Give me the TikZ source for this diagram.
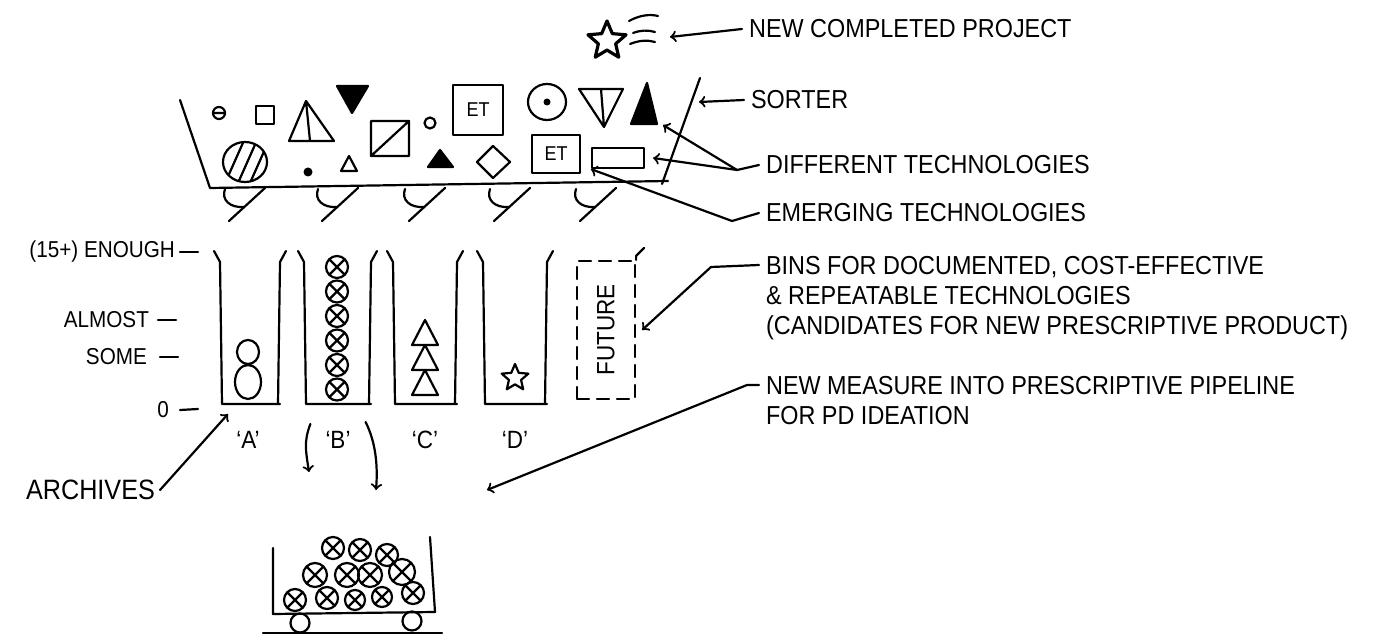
\documentclass[tikz,border=0pt]{standalone}
\usepackage{fontspec}
\setmainfont{Liberation Sans}[FakeStretch=0.9]
\usetikzlibrary{shapes.geometric,positioning}

\begin{document}
\begin{tikzpicture}[
        x=0.5pt, y=-0.5pt,
        line width=1.1pt, line cap=round, line join=round,
        note/.style={anchor=west, align=left, inner sep=0pt, font=\fontsize{13}{15}\selectfont},
        level/.style={anchor=east, inner sep=0pt, font=\fontsize{11.5}{13}\selectfont},
        binname/.style={inner sep=0pt, font=\fontsize{12.5}{14}\selectfont},
        etbox/.style={draw, inner sep=0pt, font=\fontsize{10}{12}\selectfont},
        pics/xball/.style={code={\draw (0,0) circle[radius=1] (-0.7,-0.7) -- (0.7,0.7) (-0.7,0.7) -- (0.7,-0.7);}},
    ]
    \fill[white] (0,0) rectangle (1380,635);
    \useasboundingbox (0,0) rectangle (1380,635);

    % sorter
    \draw (180,100) -- (210,188) -- (668,181);
    \draw (662,184) -- (700,78);
    \foreach \x in {225,318,405,490,576} {
        \draw (\x,189) .. controls (\x-4,200) and (\x+5,208) .. (\x+19,207);
        \draw (\x+40,188) -- (\x+4,221);
    }

    % technologies, top row
    \draw (219,113) circle[radius=6] (213,113) -- (225,113);
    \draw (256,106) rectangle (274,124);
    \draw (306,101) -- (289,141) -- (334,141) -- cycle (306,101) -- (310,141);
    \filldraw (337,86) -- (368,86) -- (352,113) -- cycle;
    \draw (371,121) rectangle (409,156) (371,156) -- (409,121);
    \draw (430,123) circle[radius=5.5];
    \node (et1) [etbox, minimum size=25pt] at (478,110) {ET};
    \draw (547,102) circle[x radius=19, y radius=18];
    \fill (547,102) circle[radius=3.5];
    \draw (579,89) -- (623,89) -- (604,127) -- cycle (601,89) -- (604,127);
    \filldraw (647,83) -- (657,124) -- (631,124) -- cycle;
    \coordinate (tallTri) at (663,125);

    % technologies, bottom row
    \draw (245,162) circle[x radius=22, y radius=20];
    \begin{scope}
        \clip (245,162) circle[x radius=22, y radius=20];
        \draw (222,190) -- (246,136) (234,192) -- (258,138) (246,192) -- (270,138);
    \end{scope}
    \fill (308,172) circle[radius=4.5];
    \draw (349,156) -- (357,171) -- (341,171) -- cycle;
    \filldraw (440,150) -- (453,167) -- (428,167) -- cycle;
    \draw (493,146) -- (510,162) -- (493,178) -- (477,162) -- cycle;
    \node (et2) [etbox, minimum width=24pt, minimum height=19pt] at (556,154) {ET};
    \node (emRect) [draw, minimum width=26pt, minimum height=10pt, inner sep=0pt] at (618,158) {};

    % new project
    \node (newStar) [star, star points=5, star point ratio=2.2, draw, line width=1.6pt, minimum size=20pt, inner sep=0pt] at (607,41) {};
    \draw (629,21) .. controls (640,15) and (650,14) .. (658,16);
    \draw (633,33) .. controls (641,30) and (648,30) .. (655,32);
    \draw (630,44) .. controls (640,40) and (648,40) .. (655,42);
    \coordinate (streak) at (670,37);
    \coordinate (sortwall) at (699,102);

    % bins
    \foreach \lft/\rgt in {220/278, 304/369, 393/455, 483/545} {
        \draw (\lft-6,251) -- (\lft,262) -- (\lft+2,404) -- (\rgt+2,404);
        \draw (\rgt+8,251) -- (\rgt+2,262) -- (\rgt,404);
    }
    \coordinate (binA) at (228,414);
    \draw (248,352) circle[x radius=11, y radius=12] (248,382) circle[x radius=13, y radius=17];
    \foreach \i in {0,...,5}
        \pic[scale=11] at (337,{267+24.5*\i}) {xball};
    \foreach \i in {0,1,2}
        \draw (425,{320+25*\i}) -- (438,{345+25*\i}) -- (412,{345+25*\i}) -- cycle;
    \node (starD) [star, star points=5, star point ratio=2.2, draw, minimum size=14pt, inner sep=0pt] at (515,378) {};
    \node (future) [draw, dash pattern=on 6pt off 4pt, minimum width=29pt, minimum height=69pt, inner sep=0pt] at (606,330) {};
    \node [rotate=90, inner sep=0pt, font=\fontsize{12.5}{14}\selectfont] at (future) {FUTURE};
    \draw (future.north east) -- ++(0,-4) -- ++(8,-8);

    % levels
    \node (enough) [level] at (176,252) {(15+) ENOUGH};
    \node (almost) [level] at (150,320) {ALMOST};
    \node (some) [level] at (148,357) {SOME};
    \node (zero) [level] at (170,410) {0};
    \draw ([xshift=2pt]enough.east) -- ++(18,0);
    \draw ([xshift=4pt]almost.east) -- ++(18,0);
    \draw ([xshift=6pt]some.east) -- ++(18,0);
    \draw ([xshift=5pt]zero.east) -- ++(18,-1);

    \node (labA) [binname] at (248,440) {`A'};
    \node (labB) [binname] at (338,440) {`B'};
    \node (labC) [binname] at (425,440) {`C'};
    \node (labD) [binname] at (515,440) {`D'};
    \coordinate (dropL) at (309,472);
    \coordinate (dropR) at (376,490);
    \draw[->] ([shift={(-7pt,8pt)}]labB.west) .. controls +(-7,18) and +(-3,-20) .. (dropL);
    \draw[->] ([shift={(7pt,9pt)}]labB.east) .. controls +(10,20) and +(2,-25) .. (dropR);

    \node (archives) [anchor=west, inner sep=0pt, font=\fontsize{14}{16}\selectfont] at (25,490) {ARCHIVES};
    \draw[->] ([xshift=2pt]archives.east) -- (binA);

    % cart
    \draw (273,548) -- (273,614) -- (435,612) -- (430,537);
    \draw (300,623) circle[radius=9.5] (412,621) circle[radius=9.5];
    \draw (263,633) -- (442,633);
    \foreach \x/\y/\s in {333/548/11, 360/550/11, 387/555/11,
                          315/575/12, 347/575/12, 370/575/12, 402/572/13,
                          295/600/11, 327/598/11, 355/600/10, 382/597/10, 413/593/11}
        \pic[scale=\s] at (\x,\y) {xball};
    \coordinate (cartTop) at (487,490);

    % notes
    \node (newproj) [note] at (748,29) {NEW COMPLETED PROJECT};
    \node (sorter) [note] at (750,100) {SORTER};
    \node (diff) [note] at (765,165) {DIFFERENT TECHNOLOGIES};
    \node (emerg) [note] at (765,213) {EMERGING TECHNOLOGIES};
    \node (bins) [note, anchor=north west] at (765,255) {BINS FOR DOCUMENTED, COST-EFFECTIVE\\
        \& REPEATABLE TECHNOLOGIES\\(CANDIDATES FOR NEW PRESCRIPTIVE PRODUCT)};
    \node (measure) [note, anchor=north west] at (765,375) {NEW MEASURE INTO PRESCRIPTIVE PIPELINE\\FOR PD IDEATION};

    \draw[->] ([xshift=-3pt]newproj.west) -- (streak);
    \draw[->] ([xshift=-3pt]sorter.west) -- (sortwall);
    \draw ([xshift=-3pt]diff.west) -- ++(-22,5) coordinate (diffjoin);
    \draw[->] (diffjoin) -- (tallTri);
    \draw[->] (diffjoin) -- ([xshift=4pt]emRect.east);
    \draw[->] ([xshift=-3pt]emerg.west) -- ++(-27,8) -- (emRect.south west);
    \draw[->] ([shift={(-3pt,-5pt)}]bins.north west) -- ++(-48,2) -- ([xshift=3pt]future.east);
    \draw[->] ([shift={(-3pt,-5pt)}]measure.north west) -- ++(-12,0) -- (cartTop);
\end{tikzpicture}
\end{document}
